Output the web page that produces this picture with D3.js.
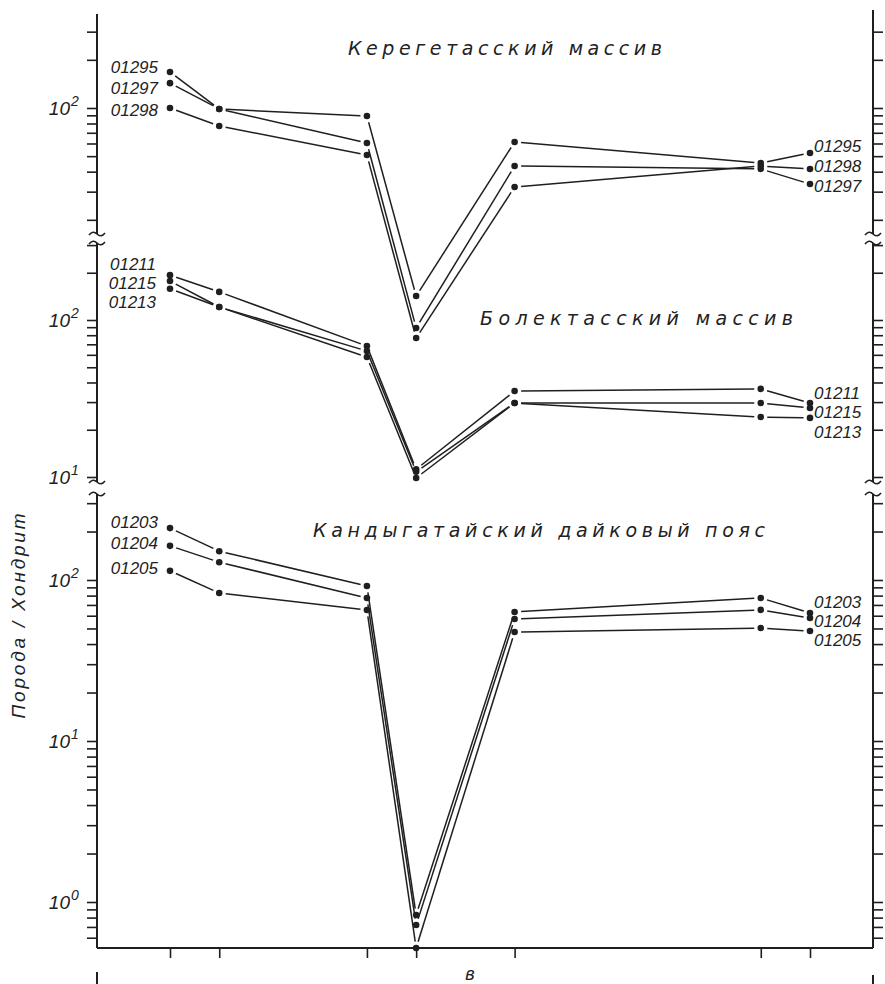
<!DOCTYPE html>
<html>
<head>
<meta charset="utf-8">
<script src="https://cdn.jsdelivr.net/npm/d3@7/dist/d3.min.js"></script>
<style>
  html, body { margin: 0; padding: 0; background: #ffffff; }
  svg { display: block; }
  text { font-family: "Liberation Sans", Arial, sans-serif; font-style: italic; fill: #222; }
  text.title { font-family: "DejaVu Sans", "Liberation Sans", sans-serif; }
</style>
</head>
<body>
<script>
// ---------- DATA ----------
// positions of the plotted elements along the horizontal axis (index on the element scale)
const positions = [0, 1, 4, 5, 7, 12, 13];

// Керегетасский массив
const kereTitle = "Керегетасский массив";
const kereSamples = ["01295", "01297", "01298"];
const kere01295 = [168, 98.6, 89.1, 6.68, 61.3, 45.3, 52.3];
const kere01297 = [143, 98.6, 60.4, 4.22, 43.4, 41.6, 33.5];
const kere01298 = [100, 77.2, 50.8, 3.65, 32.1, 43.4, 41.6];
const kereRightOrder = ["01295", "01298", "01297"];

// Болектасский массив
const bolTitle = "Болектасский массив";
const bolSamples = ["01211", "01215", "01213"];
const bol01211 = [193, 151, 68.2, 11.2, 35.3, 36.4, 29.6];
const bol01215 = [177, 121, 63.5, 10.8, 29.6, 29.6, 27.5];
const bol01213 = [158, 121, 58.1, 9.86, 29.6, 24.1, 23.8];
const bolRightOrder = ["01211", "01215", "01213"];

// Кандыгатайский дайковый пояс
const kanTitle = "Кандыгатайский дайковый пояс";
const kanSamples = ["01203", "01204", "01205"];
const kan01203 = [210, 151, 91.8, 0.830, 63.3, 77.3, 62.4];
const kan01204 = [163, 129, 77.3, 0.719, 57.3, 65.2, 58.1];
const kan01205 = [114, 83.0, 65.1, 0.518, 47.5, 50.3, 48.2];
const kanRightOrder = ["01203", "01204", "01205"];

// axis labels
const yAxisTitle = "Порода / Хондрит";
const figureLetter = "в";
const panelTickLabels = [[2], [2, 1], [2, 1, 0]];   // exponents of 10 labelled in each panel

// ---------- LAYOUT ----------
const W = 885, H = 984;
const axL = 97, axR = 873, axB = 948;
const ink = "#1f1f1f";

const svg = d3.select("body").append("svg").attr("width", W).attr("height", H);
svg.append("rect").attr("width", W).attr("height", H).attr("fill", "#ffffff");

const x = d3.scaleLinear().domain([0, 13]).range([170, 810]);

const panels = [
  {
    title: kereTitle, titleX: 348, titleY: 55, titleLen: 314,
    series: [kere01295, kere01297, kere01298], names: kereSamples, rightOrder: kereRightOrder,
    y: d3.scaleLog().domain([1, 100]).range([108 + 2 * 160, 108]),
    extent: [14, 234], rightTop: 10,
    leftLabelY: [67, 88, 110], leftLabelX: 158,
    rightLabelY: [146, 166, 186], rightLabelX: 814,
    labels: panelTickLabels[0]
  },
  {
    title: bolTitle, titleX: 480, titleY: 325, titleLen: 313,
    series: [bol01211, bol01215, bol01213], names: bolSamples, rightOrder: bolRightOrder,
    y: d3.scaleLog().domain([10, 100]).range([477, 320]),
    extent: [243, 482],
    leftLabelY: [264, 283, 302], leftLabelX: 156,
    rightLabelY: [393, 412, 432], rightLabelX: 814,
    labels: panelTickLabels[1]
  },
  {
    title: kanTitle, titleX: 313, titleY: 537, titleLen: 452,
    series: [kan01203, kan01204, kan01205], names: kanSamples, rightOrder: kanRightOrder,
    y: d3.scaleLog().domain([1, 100]).range([902, 580]),
    extent: [494, axB],
    leftLabelY: [522, 543, 568], leftLabelX: 158,
    rightLabelY: [602, 621, 640], rightLabelX: 814,
    labels: panelTickLabels[2]
  }
];

// ---------- AXES ----------
function tickValuesFor(scale, ext) {
  const vals = [];
  for (let k = -1; k <= 3; k++) {
    for (let m = 1; m <= 9; m++) {
      const v = m * Math.pow(10, k);
      const py = scale(v);
      if (py >= ext[0] - 0.5 && py <= ext[1] + 0.5) vals.push(v);
    }
  }
  return vals;
}

function tilde(g, cx, cy) {
  g.append("path")
    .attr("d", `M${cx - 8},${cy + 1} q4,-5 8,-1 t8,-1`)
    .attr("fill", "none").attr("stroke", ink).attr("stroke-width", 1.6);
}

panels.forEach((p, i) => {
  const tv = tickValuesFor(p.y, p.extent);
  const left = svg.append("g").attr("transform", `translate(${axL},0)`)
    .call(d3.axisLeft(p.y).tickValues(tv).tickSize(10).tickFormat(""));
  const right = svg.append("g").attr("transform", `translate(${axR},0)`)
    .call(d3.axisRight(p.y).tickValues(tv).tickSize(10).tickFormat(""));
  [left, right].forEach(g => {
    g.select(".domain").remove();
    g.selectAll(".tick line").attr("stroke", ink).attr("stroke-width", 1.6);
  });
  // axis spine pieces
  svg.append("line").attr("x1", axL).attr("x2", axL)
    .attr("y1", p.extent[0]).attr("y2", p.extent[1])
    .attr("stroke", ink).attr("stroke-width", 2);
  svg.append("line").attr("x1", axR).attr("x2", axR)
    .attr("y1", i === 0 ? p.rightTop : p.extent[0]).attr("y2", p.extent[1])
    .attr("stroke", ink).attr("stroke-width", 2);
  // break marks
  if (i > 0) {
    tilde(svg, axL, p.extent[0]); tilde(svg, axR, p.extent[0]);
  }
  if (i < 2) {
    tilde(svg, axL, p.extent[1]); tilde(svg, axR, p.extent[1]);
  }
  // power-of-ten labels
  p.labels.forEach(e => {
    const ty = p.y(Math.pow(10, e));
    svg.append("text").attr("x", 70).attr("y", ty + 7)
      .attr("text-anchor", "end").attr("font-size", 19).text("10");
    svg.append("text").attr("x", 71).attr("y", ty - 2)
      .attr("text-anchor", "start").attr("font-size", 14).text(String(e));
  });
});

// bottom axis
svg.append("line").attr("x1", axL).attr("x2", axR).attr("y1", axB).attr("y2", axB)
  .attr("stroke", ink).attr("stroke-width", 2);
const xa = svg.append("g").attr("transform", `translate(0,${axB})`)
  .call(d3.axisBottom(x).tickValues(positions).tickSize(10).tickFormat(""));
xa.select(".domain").remove();
xa.selectAll(".tick line").attr("stroke", ink).attr("stroke-width", 1.6);

svg.append("text").attr("x", 470).attr("y", 980).attr("text-anchor", "middle")
  .attr("font-size", 18).text(figureLetter);
// stubs of the next figure's axes at the bottom edge
svg.append("line").attr("x1", axL).attr("x2", axL).attr("y1", 972).attr("y2", 984)
  .attr("stroke", ink).attr("stroke-width", 2);
svg.append("line").attr("x1", axR).attr("x2", axR).attr("y1", 975).attr("y2", 984)
  .attr("stroke", ink).attr("stroke-width", 2);

// y-axis title
svg.append("text")
  .attr("transform", "translate(25,616) rotate(-90)")
  .attr("text-anchor", "middle").attr("font-size", 19)
  .attr("textLength", 205).attr("lengthAdjust", "spacing")
  .text(yAxisTitle);

// ---------- SERIES ----------
const gap = 6.5;
const seg = d3.line();
panels.forEach(p => {
  const g = svg.append("g");
  g.append("text").attr("class", "title").attr("x", p.titleX).attr("y", p.titleY)
    .attr("font-size", 19).attr("textLength", p.titleLen).attr("lengthAdjust", "spacing")
    .text(p.title);

  p.series.forEach((vals, si) => {
    const pts = vals.map((v, k) => [x(positions[k]), p.y(v)]);
    for (let k = 0; k < pts.length - 1; k++) {
      const [x1, y1] = pts[k], [x2, y2] = pts[k + 1];
      const dx = x2 - x1, dy = y2 - y1, L = Math.hypot(dx, dy);
      const ux = dx / L, uy = dy / L;
      g.append("path")
        .attr("d", seg([[x1 + ux * gap, y1 + uy * gap], [x2 - ux * gap, y2 - uy * gap]]))
        .attr("fill", "none").attr("stroke", ink).attr("stroke-width", 1.5);
    }
    g.selectAll(null).data(pts).enter().append("circle")
      .attr("cx", d => d[0]).attr("cy", d => d[1]).attr("r", 3.3).attr("fill", ink);
  });

  // sample labels, left side
  p.names.forEach((n, j) => {
    g.append("text").attr("x", p.leftLabelX).attr("y", p.leftLabelY[j])
      .attr("dy", "0.35em").attr("text-anchor", "end").attr("font-size", 17).text(n);
  });
  // sample labels, right side
  p.rightOrder.forEach((n, j) => {
    g.append("text").attr("x", p.rightLabelX).attr("y", p.rightLabelY[j])
      .attr("dy", "0.35em").attr("text-anchor", "start").attr("font-size", 17).text(n);
  });
});
</script>
</body>
</html>
